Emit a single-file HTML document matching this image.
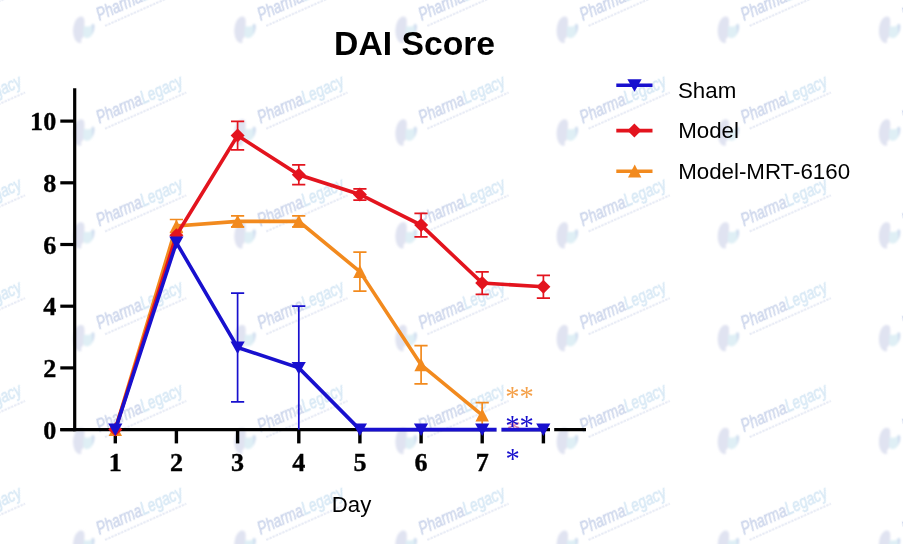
<!DOCTYPE html>
<html><head><meta charset="utf-8"><title>DAI Score</title>
<style>
html,body{margin:0;padding:0;background:#fff}
body{width:903px;height:544px;overflow:hidden}
svg{display:block}
.t{font-family:"Liberation Sans",Arial,sans-serif}
.s{font-family:"Liberation Serif","Times New Roman",serif;font-weight:bold;font-size:26.1px}
.a{font-family:"Liberation Serif","Times New Roman",serif;font-size:28.6px}
</style></head><body>
<svg width="903" height="544" viewBox="0 0 903 544">
<defs>
<filter id="b" x="-20%" y="-20%" width="140%" height="140%"><feGaussianBlur stdDeviation="0.5"/></filter>
<filter id="b2" x="-30%" y="-30%" width="160%" height="160%"><feGaussianBlur stdDeviation="0.9"/></filter>
</defs>
<rect width="903" height="544" fill="#fff"/>
<g><g transform="translate(-64.0 19.4)"><g filter="url(#b2)">
<path d="M-18 -2.500c3.500-1.200 5.500 1 5.300 4.500l-0.300 12c0 3-2 5-3.500 6.500c1.500 1.500 1 3.500-1.500 3c-3.500-1-5.500-5-6-10c-0.500-6 1.500-14 6-16z" fill="#e0e3f1"/>
<path d="M-13.500 6.500c3 1 7 1 10-2.500c1.500 8-1.500 13.500-6 14.500c-3 0.500-4.500-1-4.500-4z" fill="#dfeff5"/>
<path d="M-5.500 5c1.800-1 2.800 0 2.800 2c0 3-1 6-2.800 8c1-3 1-7 0-10z" fill="#ccd9ee"/>
</g>
<g transform="translate(2.300 1.500) rotate(-24)" filter="url(#b)">
<text class="t" x="0" y="0" font-size="18" font-style="italic" stroke-width="0.500" transform="scale(0.765 1)"><tspan fill="#ced7ec" stroke="#ced7ec">Pharma</tspan><tspan fill="#d7e8f5" stroke="#d7e8f5">Legacy</tspan></text>
<path d="M3 6.800H92" stroke="#e6eaf5" stroke-width="2" stroke-dasharray="2.500 1"/>
</g></g>
<g transform="translate(97.2 19.4)"><g filter="url(#b2)">
<path d="M-18 -2.500c3.500-1.200 5.500 1 5.300 4.500l-0.300 12c0 3-2 5-3.500 6.500c1.500 1.500 1 3.500-1.500 3c-3.500-1-5.500-5-6-10c-0.500-6 1.500-14 6-16z" fill="#e0e3f1"/>
<path d="M-13.500 6.500c3 1 7 1 10-2.500c1.500 8-1.500 13.500-6 14.500c-3 0.500-4.500-1-4.500-4z" fill="#dfeff5"/>
<path d="M-5.500 5c1.800-1 2.800 0 2.800 2c0 3-1 6-2.800 8c1-3 1-7 0-10z" fill="#ccd9ee"/>
</g>
<g transform="translate(2.300 1.500) rotate(-24)" filter="url(#b)">
<text class="t" x="0" y="0" font-size="18" font-style="italic" stroke-width="0.500" transform="scale(0.765 1)"><tspan fill="#ced7ec" stroke="#ced7ec">Pharma</tspan><tspan fill="#d7e8f5" stroke="#d7e8f5">Legacy</tspan></text>
<path d="M3 6.800H92" stroke="#e6eaf5" stroke-width="2" stroke-dasharray="2.500 1"/>
</g></g>
<g transform="translate(258.4 19.4)"><g filter="url(#b2)">
<path d="M-18 -2.500c3.500-1.200 5.500 1 5.300 4.500l-0.300 12c0 3-2 5-3.500 6.500c1.500 1.500 1 3.500-1.500 3c-3.500-1-5.500-5-6-10c-0.500-6 1.500-14 6-16z" fill="#e0e3f1"/>
<path d="M-13.500 6.500c3 1 7 1 10-2.500c1.500 8-1.500 13.500-6 14.500c-3 0.500-4.500-1-4.500-4z" fill="#dfeff5"/>
<path d="M-5.500 5c1.800-1 2.800 0 2.800 2c0 3-1 6-2.800 8c1-3 1-7 0-10z" fill="#ccd9ee"/>
</g>
<g transform="translate(2.300 1.500) rotate(-24)" filter="url(#b)">
<text class="t" x="0" y="0" font-size="18" font-style="italic" stroke-width="0.500" transform="scale(0.765 1)"><tspan fill="#ced7ec" stroke="#ced7ec">Pharma</tspan><tspan fill="#d7e8f5" stroke="#d7e8f5">Legacy</tspan></text>
<path d="M3 6.800H92" stroke="#e6eaf5" stroke-width="2" stroke-dasharray="2.500 1"/>
</g></g>
<g transform="translate(419.5 19.4)"><g filter="url(#b2)">
<path d="M-18 -2.500c3.500-1.200 5.500 1 5.300 4.500l-0.300 12c0 3-2 5-3.500 6.500c1.500 1.500 1 3.500-1.500 3c-3.500-1-5.500-5-6-10c-0.500-6 1.500-14 6-16z" fill="#e0e3f1"/>
<path d="M-13.500 6.500c3 1 7 1 10-2.500c1.500 8-1.500 13.500-6 14.500c-3 0.500-4.500-1-4.500-4z" fill="#dfeff5"/>
<path d="M-5.500 5c1.800-1 2.800 0 2.800 2c0 3-1 6-2.800 8c1-3 1-7 0-10z" fill="#ccd9ee"/>
</g>
<g transform="translate(2.300 1.500) rotate(-24)" filter="url(#b)">
<text class="t" x="0" y="0" font-size="18" font-style="italic" stroke-width="0.500" transform="scale(0.765 1)"><tspan fill="#ced7ec" stroke="#ced7ec">Pharma</tspan><tspan fill="#d7e8f5" stroke="#d7e8f5">Legacy</tspan></text>
<path d="M3 6.800H92" stroke="#e6eaf5" stroke-width="2" stroke-dasharray="2.500 1"/>
</g></g>
<g transform="translate(580.7 19.4)"><g filter="url(#b2)">
<path d="M-18 -2.500c3.500-1.200 5.500 1 5.300 4.500l-0.300 12c0 3-2 5-3.500 6.500c1.500 1.500 1 3.500-1.500 3c-3.500-1-5.500-5-6-10c-0.500-6 1.500-14 6-16z" fill="#e0e3f1"/>
<path d="M-13.500 6.500c3 1 7 1 10-2.500c1.500 8-1.500 13.500-6 14.500c-3 0.500-4.500-1-4.500-4z" fill="#dfeff5"/>
<path d="M-5.500 5c1.800-1 2.800 0 2.800 2c0 3-1 6-2.800 8c1-3 1-7 0-10z" fill="#ccd9ee"/>
</g>
<g transform="translate(2.300 1.500) rotate(-24)" filter="url(#b)">
<text class="t" x="0" y="0" font-size="18" font-style="italic" stroke-width="0.500" transform="scale(0.765 1)"><tspan fill="#ced7ec" stroke="#ced7ec">Pharma</tspan><tspan fill="#d7e8f5" stroke="#d7e8f5">Legacy</tspan></text>
<path d="M3 6.800H92" stroke="#e6eaf5" stroke-width="2" stroke-dasharray="2.500 1"/>
</g></g>
<g transform="translate(741.8 19.4)"><g filter="url(#b2)">
<path d="M-18 -2.500c3.500-1.200 5.500 1 5.300 4.500l-0.300 12c0 3-2 5-3.500 6.500c1.500 1.500 1 3.500-1.500 3c-3.500-1-5.500-5-6-10c-0.500-6 1.500-14 6-16z" fill="#e0e3f1"/>
<path d="M-13.500 6.500c3 1 7 1 10-2.500c1.500 8-1.500 13.500-6 14.500c-3 0.500-4.500-1-4.500-4z" fill="#dfeff5"/>
<path d="M-5.500 5c1.800-1 2.800 0 2.800 2c0 3-1 6-2.800 8c1-3 1-7 0-10z" fill="#ccd9ee"/>
</g>
<g transform="translate(2.300 1.500) rotate(-24)" filter="url(#b)">
<text class="t" x="0" y="0" font-size="18" font-style="italic" stroke-width="0.500" transform="scale(0.765 1)"><tspan fill="#ced7ec" stroke="#ced7ec">Pharma</tspan><tspan fill="#d7e8f5" stroke="#d7e8f5">Legacy</tspan></text>
<path d="M3 6.800H92" stroke="#e6eaf5" stroke-width="2" stroke-dasharray="2.500 1"/>
</g></g>
<g transform="translate(903.0 19.4)"><g filter="url(#b2)">
<path d="M-18 -2.500c3.500-1.200 5.500 1 5.300 4.500l-0.300 12c0 3-2 5-3.500 6.500c1.500 1.500 1 3.500-1.500 3c-3.500-1-5.500-5-6-10c-0.500-6 1.500-14 6-16z" fill="#e0e3f1"/>
<path d="M-13.500 6.500c3 1 7 1 10-2.500c1.500 8-1.500 13.500-6 14.500c-3 0.500-4.500-1-4.500-4z" fill="#dfeff5"/>
<path d="M-5.500 5c1.800-1 2.800 0 2.800 2c0 3-1 6-2.800 8c1-3 1-7 0-10z" fill="#ccd9ee"/>
</g>
<g transform="translate(2.300 1.500) rotate(-24)" filter="url(#b)">
<text class="t" x="0" y="0" font-size="18" font-style="italic" stroke-width="0.500" transform="scale(0.765 1)"><tspan fill="#ced7ec" stroke="#ced7ec">Pharma</tspan><tspan fill="#d7e8f5" stroke="#d7e8f5">Legacy</tspan></text>
<path d="M3 6.800H92" stroke="#e6eaf5" stroke-width="2" stroke-dasharray="2.500 1"/>
</g></g>
<g transform="translate(-64.0 122.2)"><g filter="url(#b2)">
<path d="M-18 -2.500c3.500-1.200 5.500 1 5.300 4.500l-0.300 12c0 3-2 5-3.500 6.500c1.500 1.500 1 3.500-1.500 3c-3.500-1-5.500-5-6-10c-0.500-6 1.500-14 6-16z" fill="#e0e3f1"/>
<path d="M-13.500 6.500c3 1 7 1 10-2.500c1.500 8-1.500 13.500-6 14.500c-3 0.500-4.500-1-4.500-4z" fill="#dfeff5"/>
<path d="M-5.500 5c1.800-1 2.800 0 2.800 2c0 3-1 6-2.800 8c1-3 1-7 0-10z" fill="#ccd9ee"/>
</g>
<g transform="translate(2.300 1.500) rotate(-24)" filter="url(#b)">
<text class="t" x="0" y="0" font-size="18" font-style="italic" stroke-width="0.500" transform="scale(0.765 1)"><tspan fill="#ced7ec" stroke="#ced7ec">Pharma</tspan><tspan fill="#d7e8f5" stroke="#d7e8f5">Legacy</tspan></text>
<path d="M3 6.800H92" stroke="#e6eaf5" stroke-width="2" stroke-dasharray="2.500 1"/>
</g></g>
<g transform="translate(97.2 122.2)"><g filter="url(#b2)">
<path d="M-18 -2.500c3.500-1.200 5.500 1 5.300 4.500l-0.300 12c0 3-2 5-3.500 6.500c1.500 1.500 1 3.500-1.500 3c-3.500-1-5.500-5-6-10c-0.500-6 1.500-14 6-16z" fill="#e0e3f1"/>
<path d="M-13.500 6.500c3 1 7 1 10-2.500c1.500 8-1.500 13.500-6 14.500c-3 0.500-4.500-1-4.500-4z" fill="#dfeff5"/>
<path d="M-5.500 5c1.800-1 2.800 0 2.800 2c0 3-1 6-2.800 8c1-3 1-7 0-10z" fill="#ccd9ee"/>
</g>
<g transform="translate(2.300 1.500) rotate(-24)" filter="url(#b)">
<text class="t" x="0" y="0" font-size="18" font-style="italic" stroke-width="0.500" transform="scale(0.765 1)"><tspan fill="#ced7ec" stroke="#ced7ec">Pharma</tspan><tspan fill="#d7e8f5" stroke="#d7e8f5">Legacy</tspan></text>
<path d="M3 6.800H92" stroke="#e6eaf5" stroke-width="2" stroke-dasharray="2.500 1"/>
</g></g>
<g transform="translate(258.4 122.2)"><g filter="url(#b2)">
<path d="M-18 -2.500c3.500-1.200 5.500 1 5.300 4.500l-0.300 12c0 3-2 5-3.500 6.500c1.500 1.500 1 3.500-1.500 3c-3.500-1-5.500-5-6-10c-0.500-6 1.500-14 6-16z" fill="#e0e3f1"/>
<path d="M-13.500 6.500c3 1 7 1 10-2.500c1.500 8-1.500 13.500-6 14.500c-3 0.500-4.500-1-4.500-4z" fill="#dfeff5"/>
<path d="M-5.500 5c1.800-1 2.800 0 2.800 2c0 3-1 6-2.800 8c1-3 1-7 0-10z" fill="#ccd9ee"/>
</g>
<g transform="translate(2.300 1.500) rotate(-24)" filter="url(#b)">
<text class="t" x="0" y="0" font-size="18" font-style="italic" stroke-width="0.500" transform="scale(0.765 1)"><tspan fill="#ced7ec" stroke="#ced7ec">Pharma</tspan><tspan fill="#d7e8f5" stroke="#d7e8f5">Legacy</tspan></text>
<path d="M3 6.800H92" stroke="#e6eaf5" stroke-width="2" stroke-dasharray="2.500 1"/>
</g></g>
<g transform="translate(419.5 122.2)"><g filter="url(#b2)">
<path d="M-18 -2.500c3.500-1.200 5.500 1 5.300 4.500l-0.300 12c0 3-2 5-3.500 6.500c1.500 1.500 1 3.500-1.500 3c-3.500-1-5.500-5-6-10c-0.500-6 1.500-14 6-16z" fill="#e0e3f1"/>
<path d="M-13.500 6.500c3 1 7 1 10-2.500c1.500 8-1.500 13.500-6 14.500c-3 0.500-4.500-1-4.500-4z" fill="#dfeff5"/>
<path d="M-5.500 5c1.800-1 2.800 0 2.800 2c0 3-1 6-2.800 8c1-3 1-7 0-10z" fill="#ccd9ee"/>
</g>
<g transform="translate(2.300 1.500) rotate(-24)" filter="url(#b)">
<text class="t" x="0" y="0" font-size="18" font-style="italic" stroke-width="0.500" transform="scale(0.765 1)"><tspan fill="#ced7ec" stroke="#ced7ec">Pharma</tspan><tspan fill="#d7e8f5" stroke="#d7e8f5">Legacy</tspan></text>
<path d="M3 6.800H92" stroke="#e6eaf5" stroke-width="2" stroke-dasharray="2.500 1"/>
</g></g>
<g transform="translate(580.7 122.2)"><g filter="url(#b2)">
<path d="M-18 -2.500c3.500-1.200 5.500 1 5.300 4.500l-0.300 12c0 3-2 5-3.500 6.500c1.500 1.500 1 3.500-1.500 3c-3.500-1-5.500-5-6-10c-0.500-6 1.500-14 6-16z" fill="#e0e3f1"/>
<path d="M-13.500 6.500c3 1 7 1 10-2.500c1.500 8-1.500 13.500-6 14.500c-3 0.500-4.500-1-4.500-4z" fill="#dfeff5"/>
<path d="M-5.500 5c1.800-1 2.800 0 2.800 2c0 3-1 6-2.800 8c1-3 1-7 0-10z" fill="#ccd9ee"/>
</g>
<g transform="translate(2.300 1.500) rotate(-24)" filter="url(#b)">
<text class="t" x="0" y="0" font-size="18" font-style="italic" stroke-width="0.500" transform="scale(0.765 1)"><tspan fill="#ced7ec" stroke="#ced7ec">Pharma</tspan><tspan fill="#d7e8f5" stroke="#d7e8f5">Legacy</tspan></text>
<path d="M3 6.800H92" stroke="#e6eaf5" stroke-width="2" stroke-dasharray="2.500 1"/>
</g></g>
<g transform="translate(741.8 122.2)"><g filter="url(#b2)">
<path d="M-18 -2.500c3.500-1.200 5.500 1 5.300 4.500l-0.300 12c0 3-2 5-3.500 6.500c1.500 1.500 1 3.500-1.500 3c-3.500-1-5.500-5-6-10c-0.500-6 1.500-14 6-16z" fill="#e0e3f1"/>
<path d="M-13.500 6.500c3 1 7 1 10-2.500c1.500 8-1.500 13.500-6 14.500c-3 0.500-4.500-1-4.500-4z" fill="#dfeff5"/>
<path d="M-5.500 5c1.800-1 2.800 0 2.800 2c0 3-1 6-2.800 8c1-3 1-7 0-10z" fill="#ccd9ee"/>
</g>
<g transform="translate(2.300 1.500) rotate(-24)" filter="url(#b)">
<text class="t" x="0" y="0" font-size="18" font-style="italic" stroke-width="0.500" transform="scale(0.765 1)"><tspan fill="#ced7ec" stroke="#ced7ec">Pharma</tspan><tspan fill="#d7e8f5" stroke="#d7e8f5">Legacy</tspan></text>
<path d="M3 6.800H92" stroke="#e6eaf5" stroke-width="2" stroke-dasharray="2.500 1"/>
</g></g>
<g transform="translate(903.0 122.2)"><g filter="url(#b2)">
<path d="M-18 -2.500c3.500-1.200 5.500 1 5.300 4.500l-0.300 12c0 3-2 5-3.500 6.500c1.500 1.500 1 3.500-1.500 3c-3.500-1-5.500-5-6-10c-0.500-6 1.500-14 6-16z" fill="#e0e3f1"/>
<path d="M-13.500 6.500c3 1 7 1 10-2.500c1.500 8-1.500 13.500-6 14.500c-3 0.500-4.500-1-4.500-4z" fill="#dfeff5"/>
<path d="M-5.500 5c1.800-1 2.800 0 2.800 2c0 3-1 6-2.800 8c1-3 1-7 0-10z" fill="#ccd9ee"/>
</g>
<g transform="translate(2.300 1.500) rotate(-24)" filter="url(#b)">
<text class="t" x="0" y="0" font-size="18" font-style="italic" stroke-width="0.500" transform="scale(0.765 1)"><tspan fill="#ced7ec" stroke="#ced7ec">Pharma</tspan><tspan fill="#d7e8f5" stroke="#d7e8f5">Legacy</tspan></text>
<path d="M3 6.800H92" stroke="#e6eaf5" stroke-width="2" stroke-dasharray="2.500 1"/>
</g></g>
<g transform="translate(-64.0 225.0)"><g filter="url(#b2)">
<path d="M-18 -2.500c3.500-1.200 5.500 1 5.300 4.500l-0.300 12c0 3-2 5-3.500 6.500c1.500 1.500 1 3.500-1.500 3c-3.500-1-5.500-5-6-10c-0.500-6 1.500-14 6-16z" fill="#e0e3f1"/>
<path d="M-13.500 6.500c3 1 7 1 10-2.500c1.500 8-1.500 13.500-6 14.500c-3 0.500-4.500-1-4.500-4z" fill="#dfeff5"/>
<path d="M-5.500 5c1.800-1 2.800 0 2.800 2c0 3-1 6-2.800 8c1-3 1-7 0-10z" fill="#ccd9ee"/>
</g>
<g transform="translate(2.300 1.500) rotate(-24)" filter="url(#b)">
<text class="t" x="0" y="0" font-size="18" font-style="italic" stroke-width="0.500" transform="scale(0.765 1)"><tspan fill="#ced7ec" stroke="#ced7ec">Pharma</tspan><tspan fill="#d7e8f5" stroke="#d7e8f5">Legacy</tspan></text>
<path d="M3 6.800H92" stroke="#e6eaf5" stroke-width="2" stroke-dasharray="2.500 1"/>
</g></g>
<g transform="translate(97.2 225.0)"><g filter="url(#b2)">
<path d="M-18 -2.500c3.500-1.200 5.500 1 5.300 4.500l-0.300 12c0 3-2 5-3.500 6.500c1.500 1.500 1 3.500-1.500 3c-3.500-1-5.500-5-6-10c-0.500-6 1.500-14 6-16z" fill="#e0e3f1"/>
<path d="M-13.500 6.500c3 1 7 1 10-2.500c1.500 8-1.500 13.500-6 14.500c-3 0.500-4.500-1-4.500-4z" fill="#dfeff5"/>
<path d="M-5.500 5c1.800-1 2.800 0 2.800 2c0 3-1 6-2.800 8c1-3 1-7 0-10z" fill="#ccd9ee"/>
</g>
<g transform="translate(2.300 1.500) rotate(-24)" filter="url(#b)">
<text class="t" x="0" y="0" font-size="18" font-style="italic" stroke-width="0.500" transform="scale(0.765 1)"><tspan fill="#ced7ec" stroke="#ced7ec">Pharma</tspan><tspan fill="#d7e8f5" stroke="#d7e8f5">Legacy</tspan></text>
<path d="M3 6.800H92" stroke="#e6eaf5" stroke-width="2" stroke-dasharray="2.500 1"/>
</g></g>
<g transform="translate(258.4 225.0)"><g filter="url(#b2)">
<path d="M-18 -2.500c3.500-1.200 5.500 1 5.300 4.500l-0.300 12c0 3-2 5-3.500 6.500c1.500 1.500 1 3.500-1.500 3c-3.500-1-5.500-5-6-10c-0.500-6 1.500-14 6-16z" fill="#e0e3f1"/>
<path d="M-13.500 6.500c3 1 7 1 10-2.500c1.500 8-1.500 13.500-6 14.500c-3 0.500-4.500-1-4.500-4z" fill="#dfeff5"/>
<path d="M-5.500 5c1.800-1 2.800 0 2.800 2c0 3-1 6-2.800 8c1-3 1-7 0-10z" fill="#ccd9ee"/>
</g>
<g transform="translate(2.300 1.500) rotate(-24)" filter="url(#b)">
<text class="t" x="0" y="0" font-size="18" font-style="italic" stroke-width="0.500" transform="scale(0.765 1)"><tspan fill="#ced7ec" stroke="#ced7ec">Pharma</tspan><tspan fill="#d7e8f5" stroke="#d7e8f5">Legacy</tspan></text>
<path d="M3 6.800H92" stroke="#e6eaf5" stroke-width="2" stroke-dasharray="2.500 1"/>
</g></g>
<g transform="translate(419.5 225.0)"><g filter="url(#b2)">
<path d="M-18 -2.500c3.500-1.200 5.500 1 5.300 4.500l-0.300 12c0 3-2 5-3.500 6.500c1.500 1.500 1 3.500-1.500 3c-3.500-1-5.500-5-6-10c-0.500-6 1.500-14 6-16z" fill="#e0e3f1"/>
<path d="M-13.500 6.500c3 1 7 1 10-2.500c1.500 8-1.500 13.500-6 14.500c-3 0.500-4.500-1-4.500-4z" fill="#dfeff5"/>
<path d="M-5.500 5c1.800-1 2.800 0 2.800 2c0 3-1 6-2.800 8c1-3 1-7 0-10z" fill="#ccd9ee"/>
</g>
<g transform="translate(2.300 1.500) rotate(-24)" filter="url(#b)">
<text class="t" x="0" y="0" font-size="18" font-style="italic" stroke-width="0.500" transform="scale(0.765 1)"><tspan fill="#ced7ec" stroke="#ced7ec">Pharma</tspan><tspan fill="#d7e8f5" stroke="#d7e8f5">Legacy</tspan></text>
<path d="M3 6.800H92" stroke="#e6eaf5" stroke-width="2" stroke-dasharray="2.500 1"/>
</g></g>
<g transform="translate(580.7 225.0)"><g filter="url(#b2)">
<path d="M-18 -2.500c3.500-1.200 5.500 1 5.300 4.500l-0.300 12c0 3-2 5-3.500 6.500c1.500 1.500 1 3.500-1.500 3c-3.500-1-5.500-5-6-10c-0.500-6 1.500-14 6-16z" fill="#e0e3f1"/>
<path d="M-13.500 6.500c3 1 7 1 10-2.500c1.500 8-1.500 13.500-6 14.500c-3 0.500-4.500-1-4.500-4z" fill="#dfeff5"/>
<path d="M-5.500 5c1.800-1 2.800 0 2.800 2c0 3-1 6-2.800 8c1-3 1-7 0-10z" fill="#ccd9ee"/>
</g>
<g transform="translate(2.300 1.500) rotate(-24)" filter="url(#b)">
<text class="t" x="0" y="0" font-size="18" font-style="italic" stroke-width="0.500" transform="scale(0.765 1)"><tspan fill="#ced7ec" stroke="#ced7ec">Pharma</tspan><tspan fill="#d7e8f5" stroke="#d7e8f5">Legacy</tspan></text>
<path d="M3 6.800H92" stroke="#e6eaf5" stroke-width="2" stroke-dasharray="2.500 1"/>
</g></g>
<g transform="translate(741.8 225.0)"><g filter="url(#b2)">
<path d="M-18 -2.500c3.500-1.200 5.500 1 5.300 4.500l-0.300 12c0 3-2 5-3.500 6.500c1.500 1.500 1 3.500-1.500 3c-3.500-1-5.500-5-6-10c-0.500-6 1.500-14 6-16z" fill="#e0e3f1"/>
<path d="M-13.500 6.500c3 1 7 1 10-2.500c1.500 8-1.500 13.500-6 14.500c-3 0.500-4.500-1-4.500-4z" fill="#dfeff5"/>
<path d="M-5.500 5c1.800-1 2.800 0 2.800 2c0 3-1 6-2.800 8c1-3 1-7 0-10z" fill="#ccd9ee"/>
</g>
<g transform="translate(2.300 1.500) rotate(-24)" filter="url(#b)">
<text class="t" x="0" y="0" font-size="18" font-style="italic" stroke-width="0.500" transform="scale(0.765 1)"><tspan fill="#ced7ec" stroke="#ced7ec">Pharma</tspan><tspan fill="#d7e8f5" stroke="#d7e8f5">Legacy</tspan></text>
<path d="M3 6.800H92" stroke="#e6eaf5" stroke-width="2" stroke-dasharray="2.500 1"/>
</g></g>
<g transform="translate(903.0 225.0)"><g filter="url(#b2)">
<path d="M-18 -2.500c3.500-1.200 5.500 1 5.300 4.500l-0.300 12c0 3-2 5-3.500 6.500c1.500 1.500 1 3.500-1.500 3c-3.500-1-5.500-5-6-10c-0.500-6 1.500-14 6-16z" fill="#e0e3f1"/>
<path d="M-13.500 6.500c3 1 7 1 10-2.500c1.500 8-1.500 13.500-6 14.500c-3 0.500-4.500-1-4.500-4z" fill="#dfeff5"/>
<path d="M-5.500 5c1.800-1 2.800 0 2.800 2c0 3-1 6-2.800 8c1-3 1-7 0-10z" fill="#ccd9ee"/>
</g>
<g transform="translate(2.300 1.500) rotate(-24)" filter="url(#b)">
<text class="t" x="0" y="0" font-size="18" font-style="italic" stroke-width="0.500" transform="scale(0.765 1)"><tspan fill="#ced7ec" stroke="#ced7ec">Pharma</tspan><tspan fill="#d7e8f5" stroke="#d7e8f5">Legacy</tspan></text>
<path d="M3 6.800H92" stroke="#e6eaf5" stroke-width="2" stroke-dasharray="2.500 1"/>
</g></g>
<g transform="translate(-64.0 327.8)"><g filter="url(#b2)">
<path d="M-18 -2.500c3.500-1.200 5.500 1 5.300 4.500l-0.300 12c0 3-2 5-3.500 6.500c1.500 1.500 1 3.500-1.500 3c-3.500-1-5.500-5-6-10c-0.500-6 1.500-14 6-16z" fill="#e0e3f1"/>
<path d="M-13.500 6.500c3 1 7 1 10-2.500c1.500 8-1.500 13.500-6 14.500c-3 0.500-4.500-1-4.500-4z" fill="#dfeff5"/>
<path d="M-5.500 5c1.800-1 2.800 0 2.800 2c0 3-1 6-2.800 8c1-3 1-7 0-10z" fill="#ccd9ee"/>
</g>
<g transform="translate(2.300 1.500) rotate(-24)" filter="url(#b)">
<text class="t" x="0" y="0" font-size="18" font-style="italic" stroke-width="0.500" transform="scale(0.765 1)"><tspan fill="#ced7ec" stroke="#ced7ec">Pharma</tspan><tspan fill="#d7e8f5" stroke="#d7e8f5">Legacy</tspan></text>
<path d="M3 6.800H92" stroke="#e6eaf5" stroke-width="2" stroke-dasharray="2.500 1"/>
</g></g>
<g transform="translate(97.2 327.8)"><g filter="url(#b2)">
<path d="M-18 -2.500c3.500-1.200 5.500 1 5.300 4.500l-0.300 12c0 3-2 5-3.500 6.500c1.500 1.500 1 3.500-1.500 3c-3.500-1-5.500-5-6-10c-0.500-6 1.500-14 6-16z" fill="#e0e3f1"/>
<path d="M-13.500 6.500c3 1 7 1 10-2.500c1.500 8-1.500 13.500-6 14.500c-3 0.500-4.500-1-4.500-4z" fill="#dfeff5"/>
<path d="M-5.500 5c1.800-1 2.800 0 2.800 2c0 3-1 6-2.800 8c1-3 1-7 0-10z" fill="#ccd9ee"/>
</g>
<g transform="translate(2.300 1.500) rotate(-24)" filter="url(#b)">
<text class="t" x="0" y="0" font-size="18" font-style="italic" stroke-width="0.500" transform="scale(0.765 1)"><tspan fill="#ced7ec" stroke="#ced7ec">Pharma</tspan><tspan fill="#d7e8f5" stroke="#d7e8f5">Legacy</tspan></text>
<path d="M3 6.800H92" stroke="#e6eaf5" stroke-width="2" stroke-dasharray="2.500 1"/>
</g></g>
<g transform="translate(258.4 327.8)"><g filter="url(#b2)">
<path d="M-18 -2.500c3.500-1.200 5.500 1 5.300 4.500l-0.300 12c0 3-2 5-3.500 6.500c1.500 1.500 1 3.500-1.500 3c-3.500-1-5.500-5-6-10c-0.500-6 1.500-14 6-16z" fill="#e0e3f1"/>
<path d="M-13.500 6.500c3 1 7 1 10-2.500c1.500 8-1.500 13.500-6 14.500c-3 0.500-4.500-1-4.500-4z" fill="#dfeff5"/>
<path d="M-5.500 5c1.800-1 2.800 0 2.800 2c0 3-1 6-2.800 8c1-3 1-7 0-10z" fill="#ccd9ee"/>
</g>
<g transform="translate(2.300 1.500) rotate(-24)" filter="url(#b)">
<text class="t" x="0" y="0" font-size="18" font-style="italic" stroke-width="0.500" transform="scale(0.765 1)"><tspan fill="#ced7ec" stroke="#ced7ec">Pharma</tspan><tspan fill="#d7e8f5" stroke="#d7e8f5">Legacy</tspan></text>
<path d="M3 6.800H92" stroke="#e6eaf5" stroke-width="2" stroke-dasharray="2.500 1"/>
</g></g>
<g transform="translate(419.5 327.8)"><g filter="url(#b2)">
<path d="M-18 -2.500c3.500-1.200 5.500 1 5.300 4.500l-0.300 12c0 3-2 5-3.500 6.500c1.500 1.500 1 3.500-1.500 3c-3.500-1-5.500-5-6-10c-0.500-6 1.500-14 6-16z" fill="#e0e3f1"/>
<path d="M-13.500 6.500c3 1 7 1 10-2.500c1.500 8-1.500 13.500-6 14.500c-3 0.500-4.500-1-4.500-4z" fill="#dfeff5"/>
<path d="M-5.500 5c1.800-1 2.800 0 2.800 2c0 3-1 6-2.800 8c1-3 1-7 0-10z" fill="#ccd9ee"/>
</g>
<g transform="translate(2.300 1.500) rotate(-24)" filter="url(#b)">
<text class="t" x="0" y="0" font-size="18" font-style="italic" stroke-width="0.500" transform="scale(0.765 1)"><tspan fill="#ced7ec" stroke="#ced7ec">Pharma</tspan><tspan fill="#d7e8f5" stroke="#d7e8f5">Legacy</tspan></text>
<path d="M3 6.800H92" stroke="#e6eaf5" stroke-width="2" stroke-dasharray="2.500 1"/>
</g></g>
<g transform="translate(580.7 327.8)"><g filter="url(#b2)">
<path d="M-18 -2.500c3.500-1.200 5.500 1 5.300 4.500l-0.300 12c0 3-2 5-3.500 6.500c1.500 1.500 1 3.500-1.500 3c-3.500-1-5.500-5-6-10c-0.500-6 1.500-14 6-16z" fill="#e0e3f1"/>
<path d="M-13.500 6.500c3 1 7 1 10-2.500c1.500 8-1.500 13.500-6 14.500c-3 0.500-4.500-1-4.500-4z" fill="#dfeff5"/>
<path d="M-5.500 5c1.800-1 2.800 0 2.800 2c0 3-1 6-2.800 8c1-3 1-7 0-10z" fill="#ccd9ee"/>
</g>
<g transform="translate(2.300 1.500) rotate(-24)" filter="url(#b)">
<text class="t" x="0" y="0" font-size="18" font-style="italic" stroke-width="0.500" transform="scale(0.765 1)"><tspan fill="#ced7ec" stroke="#ced7ec">Pharma</tspan><tspan fill="#d7e8f5" stroke="#d7e8f5">Legacy</tspan></text>
<path d="M3 6.800H92" stroke="#e6eaf5" stroke-width="2" stroke-dasharray="2.500 1"/>
</g></g>
<g transform="translate(741.8 327.8)"><g filter="url(#b2)">
<path d="M-18 -2.500c3.500-1.200 5.500 1 5.300 4.500l-0.300 12c0 3-2 5-3.500 6.500c1.500 1.500 1 3.500-1.500 3c-3.500-1-5.500-5-6-10c-0.500-6 1.500-14 6-16z" fill="#e0e3f1"/>
<path d="M-13.500 6.500c3 1 7 1 10-2.500c1.500 8-1.500 13.500-6 14.500c-3 0.500-4.500-1-4.500-4z" fill="#dfeff5"/>
<path d="M-5.500 5c1.800-1 2.800 0 2.800 2c0 3-1 6-2.800 8c1-3 1-7 0-10z" fill="#ccd9ee"/>
</g>
<g transform="translate(2.300 1.500) rotate(-24)" filter="url(#b)">
<text class="t" x="0" y="0" font-size="18" font-style="italic" stroke-width="0.500" transform="scale(0.765 1)"><tspan fill="#ced7ec" stroke="#ced7ec">Pharma</tspan><tspan fill="#d7e8f5" stroke="#d7e8f5">Legacy</tspan></text>
<path d="M3 6.800H92" stroke="#e6eaf5" stroke-width="2" stroke-dasharray="2.500 1"/>
</g></g>
<g transform="translate(903.0 327.8)"><g filter="url(#b2)">
<path d="M-18 -2.500c3.500-1.200 5.500 1 5.300 4.500l-0.300 12c0 3-2 5-3.500 6.500c1.500 1.500 1 3.500-1.500 3c-3.500-1-5.500-5-6-10c-0.500-6 1.500-14 6-16z" fill="#e0e3f1"/>
<path d="M-13.500 6.500c3 1 7 1 10-2.500c1.500 8-1.500 13.500-6 14.500c-3 0.500-4.500-1-4.500-4z" fill="#dfeff5"/>
<path d="M-5.500 5c1.800-1 2.800 0 2.800 2c0 3-1 6-2.800 8c1-3 1-7 0-10z" fill="#ccd9ee"/>
</g>
<g transform="translate(2.300 1.500) rotate(-24)" filter="url(#b)">
<text class="t" x="0" y="0" font-size="18" font-style="italic" stroke-width="0.500" transform="scale(0.765 1)"><tspan fill="#ced7ec" stroke="#ced7ec">Pharma</tspan><tspan fill="#d7e8f5" stroke="#d7e8f5">Legacy</tspan></text>
<path d="M3 6.800H92" stroke="#e6eaf5" stroke-width="2" stroke-dasharray="2.500 1"/>
</g></g>
<g transform="translate(-64.0 430.6)"><g filter="url(#b2)">
<path d="M-18 -2.500c3.500-1.200 5.500 1 5.300 4.500l-0.300 12c0 3-2 5-3.500 6.500c1.500 1.500 1 3.500-1.500 3c-3.500-1-5.500-5-6-10c-0.500-6 1.500-14 6-16z" fill="#e0e3f1"/>
<path d="M-13.500 6.500c3 1 7 1 10-2.500c1.500 8-1.500 13.500-6 14.500c-3 0.500-4.500-1-4.500-4z" fill="#dfeff5"/>
<path d="M-5.500 5c1.800-1 2.800 0 2.800 2c0 3-1 6-2.800 8c1-3 1-7 0-10z" fill="#ccd9ee"/>
</g>
<g transform="translate(2.300 1.500) rotate(-24)" filter="url(#b)">
<text class="t" x="0" y="0" font-size="18" font-style="italic" stroke-width="0.500" transform="scale(0.765 1)"><tspan fill="#ced7ec" stroke="#ced7ec">Pharma</tspan><tspan fill="#d7e8f5" stroke="#d7e8f5">Legacy</tspan></text>
<path d="M3 6.800H92" stroke="#e6eaf5" stroke-width="2" stroke-dasharray="2.500 1"/>
</g></g>
<g transform="translate(97.2 430.6)"><g filter="url(#b2)">
<path d="M-18 -2.500c3.500-1.200 5.500 1 5.300 4.500l-0.300 12c0 3-2 5-3.500 6.500c1.500 1.500 1 3.500-1.500 3c-3.500-1-5.500-5-6-10c-0.500-6 1.500-14 6-16z" fill="#e0e3f1"/>
<path d="M-13.500 6.500c3 1 7 1 10-2.500c1.500 8-1.500 13.500-6 14.500c-3 0.500-4.500-1-4.500-4z" fill="#dfeff5"/>
<path d="M-5.500 5c1.800-1 2.800 0 2.800 2c0 3-1 6-2.800 8c1-3 1-7 0-10z" fill="#ccd9ee"/>
</g>
<g transform="translate(2.300 1.500) rotate(-24)" filter="url(#b)">
<text class="t" x="0" y="0" font-size="18" font-style="italic" stroke-width="0.500" transform="scale(0.765 1)"><tspan fill="#ced7ec" stroke="#ced7ec">Pharma</tspan><tspan fill="#d7e8f5" stroke="#d7e8f5">Legacy</tspan></text>
<path d="M3 6.800H92" stroke="#e6eaf5" stroke-width="2" stroke-dasharray="2.500 1"/>
</g></g>
<g transform="translate(258.4 430.6)"><g filter="url(#b2)">
<path d="M-18 -2.500c3.500-1.200 5.500 1 5.300 4.500l-0.300 12c0 3-2 5-3.500 6.500c1.500 1.500 1 3.500-1.500 3c-3.500-1-5.500-5-6-10c-0.500-6 1.500-14 6-16z" fill="#e0e3f1"/>
<path d="M-13.500 6.500c3 1 7 1 10-2.500c1.500 8-1.500 13.500-6 14.500c-3 0.500-4.500-1-4.500-4z" fill="#dfeff5"/>
<path d="M-5.500 5c1.800-1 2.800 0 2.800 2c0 3-1 6-2.800 8c1-3 1-7 0-10z" fill="#ccd9ee"/>
</g>
<g transform="translate(2.300 1.500) rotate(-24)" filter="url(#b)">
<text class="t" x="0" y="0" font-size="18" font-style="italic" stroke-width="0.500" transform="scale(0.765 1)"><tspan fill="#ced7ec" stroke="#ced7ec">Pharma</tspan><tspan fill="#d7e8f5" stroke="#d7e8f5">Legacy</tspan></text>
<path d="M3 6.800H92" stroke="#e6eaf5" stroke-width="2" stroke-dasharray="2.500 1"/>
</g></g>
<g transform="translate(419.5 430.6)"><g filter="url(#b2)">
<path d="M-18 -2.500c3.500-1.200 5.500 1 5.300 4.500l-0.300 12c0 3-2 5-3.500 6.500c1.500 1.500 1 3.500-1.500 3c-3.500-1-5.500-5-6-10c-0.500-6 1.500-14 6-16z" fill="#e0e3f1"/>
<path d="M-13.500 6.500c3 1 7 1 10-2.500c1.500 8-1.500 13.500-6 14.500c-3 0.500-4.500-1-4.500-4z" fill="#dfeff5"/>
<path d="M-5.500 5c1.800-1 2.800 0 2.800 2c0 3-1 6-2.800 8c1-3 1-7 0-10z" fill="#ccd9ee"/>
</g>
<g transform="translate(2.300 1.500) rotate(-24)" filter="url(#b)">
<text class="t" x="0" y="0" font-size="18" font-style="italic" stroke-width="0.500" transform="scale(0.765 1)"><tspan fill="#ced7ec" stroke="#ced7ec">Pharma</tspan><tspan fill="#d7e8f5" stroke="#d7e8f5">Legacy</tspan></text>
<path d="M3 6.800H92" stroke="#e6eaf5" stroke-width="2" stroke-dasharray="2.500 1"/>
</g></g>
<g transform="translate(580.7 430.6)"><g filter="url(#b2)">
<path d="M-18 -2.500c3.500-1.200 5.500 1 5.300 4.500l-0.300 12c0 3-2 5-3.500 6.500c1.500 1.500 1 3.500-1.500 3c-3.500-1-5.500-5-6-10c-0.500-6 1.500-14 6-16z" fill="#e0e3f1"/>
<path d="M-13.500 6.500c3 1 7 1 10-2.500c1.500 8-1.500 13.500-6 14.500c-3 0.500-4.500-1-4.500-4z" fill="#dfeff5"/>
<path d="M-5.500 5c1.800-1 2.800 0 2.800 2c0 3-1 6-2.800 8c1-3 1-7 0-10z" fill="#ccd9ee"/>
</g>
<g transform="translate(2.300 1.500) rotate(-24)" filter="url(#b)">
<text class="t" x="0" y="0" font-size="18" font-style="italic" stroke-width="0.500" transform="scale(0.765 1)"><tspan fill="#ced7ec" stroke="#ced7ec">Pharma</tspan><tspan fill="#d7e8f5" stroke="#d7e8f5">Legacy</tspan></text>
<path d="M3 6.800H92" stroke="#e6eaf5" stroke-width="2" stroke-dasharray="2.500 1"/>
</g></g>
<g transform="translate(741.8 430.6)"><g filter="url(#b2)">
<path d="M-18 -2.500c3.500-1.200 5.500 1 5.300 4.500l-0.300 12c0 3-2 5-3.500 6.500c1.500 1.500 1 3.500-1.500 3c-3.500-1-5.500-5-6-10c-0.500-6 1.500-14 6-16z" fill="#e0e3f1"/>
<path d="M-13.500 6.500c3 1 7 1 10-2.500c1.500 8-1.500 13.500-6 14.500c-3 0.500-4.500-1-4.500-4z" fill="#dfeff5"/>
<path d="M-5.500 5c1.800-1 2.800 0 2.800 2c0 3-1 6-2.800 8c1-3 1-7 0-10z" fill="#ccd9ee"/>
</g>
<g transform="translate(2.300 1.500) rotate(-24)" filter="url(#b)">
<text class="t" x="0" y="0" font-size="18" font-style="italic" stroke-width="0.500" transform="scale(0.765 1)"><tspan fill="#ced7ec" stroke="#ced7ec">Pharma</tspan><tspan fill="#d7e8f5" stroke="#d7e8f5">Legacy</tspan></text>
<path d="M3 6.800H92" stroke="#e6eaf5" stroke-width="2" stroke-dasharray="2.500 1"/>
</g></g>
<g transform="translate(903.0 430.6)"><g filter="url(#b2)">
<path d="M-18 -2.500c3.500-1.200 5.500 1 5.300 4.500l-0.300 12c0 3-2 5-3.500 6.500c1.500 1.500 1 3.500-1.500 3c-3.500-1-5.500-5-6-10c-0.500-6 1.500-14 6-16z" fill="#e0e3f1"/>
<path d="M-13.500 6.500c3 1 7 1 10-2.500c1.500 8-1.500 13.500-6 14.500c-3 0.500-4.500-1-4.500-4z" fill="#dfeff5"/>
<path d="M-5.500 5c1.800-1 2.800 0 2.800 2c0 3-1 6-2.800 8c1-3 1-7 0-10z" fill="#ccd9ee"/>
</g>
<g transform="translate(2.300 1.500) rotate(-24)" filter="url(#b)">
<text class="t" x="0" y="0" font-size="18" font-style="italic" stroke-width="0.500" transform="scale(0.765 1)"><tspan fill="#ced7ec" stroke="#ced7ec">Pharma</tspan><tspan fill="#d7e8f5" stroke="#d7e8f5">Legacy</tspan></text>
<path d="M3 6.800H92" stroke="#e6eaf5" stroke-width="2" stroke-dasharray="2.500 1"/>
</g></g>
<g transform="translate(-64.0 533.4)"><g filter="url(#b2)">
<path d="M-18 -2.500c3.500-1.200 5.500 1 5.300 4.500l-0.300 12c0 3-2 5-3.500 6.500c1.500 1.500 1 3.500-1.500 3c-3.500-1-5.500-5-6-10c-0.500-6 1.500-14 6-16z" fill="#e0e3f1"/>
<path d="M-13.500 6.500c3 1 7 1 10-2.500c1.500 8-1.500 13.500-6 14.500c-3 0.500-4.500-1-4.500-4z" fill="#dfeff5"/>
<path d="M-5.500 5c1.800-1 2.800 0 2.800 2c0 3-1 6-2.800 8c1-3 1-7 0-10z" fill="#ccd9ee"/>
</g>
<g transform="translate(2.300 1.500) rotate(-24)" filter="url(#b)">
<text class="t" x="0" y="0" font-size="18" font-style="italic" stroke-width="0.500" transform="scale(0.765 1)"><tspan fill="#ced7ec" stroke="#ced7ec">Pharma</tspan><tspan fill="#d7e8f5" stroke="#d7e8f5">Legacy</tspan></text>
<path d="M3 6.800H92" stroke="#e6eaf5" stroke-width="2" stroke-dasharray="2.500 1"/>
</g></g>
<g transform="translate(97.2 533.4)"><g filter="url(#b2)">
<path d="M-18 -2.500c3.500-1.200 5.500 1 5.300 4.500l-0.300 12c0 3-2 5-3.500 6.500c1.500 1.500 1 3.500-1.500 3c-3.500-1-5.500-5-6-10c-0.500-6 1.500-14 6-16z" fill="#e0e3f1"/>
<path d="M-13.500 6.500c3 1 7 1 10-2.500c1.500 8-1.500 13.500-6 14.500c-3 0.500-4.500-1-4.500-4z" fill="#dfeff5"/>
<path d="M-5.500 5c1.800-1 2.800 0 2.800 2c0 3-1 6-2.800 8c1-3 1-7 0-10z" fill="#ccd9ee"/>
</g>
<g transform="translate(2.300 1.500) rotate(-24)" filter="url(#b)">
<text class="t" x="0" y="0" font-size="18" font-style="italic" stroke-width="0.500" transform="scale(0.765 1)"><tspan fill="#ced7ec" stroke="#ced7ec">Pharma</tspan><tspan fill="#d7e8f5" stroke="#d7e8f5">Legacy</tspan></text>
<path d="M3 6.800H92" stroke="#e6eaf5" stroke-width="2" stroke-dasharray="2.500 1"/>
</g></g>
<g transform="translate(258.4 533.4)"><g filter="url(#b2)">
<path d="M-18 -2.500c3.500-1.200 5.500 1 5.300 4.500l-0.300 12c0 3-2 5-3.500 6.500c1.500 1.500 1 3.500-1.500 3c-3.500-1-5.500-5-6-10c-0.500-6 1.500-14 6-16z" fill="#e0e3f1"/>
<path d="M-13.500 6.500c3 1 7 1 10-2.500c1.500 8-1.500 13.500-6 14.500c-3 0.500-4.500-1-4.500-4z" fill="#dfeff5"/>
<path d="M-5.500 5c1.800-1 2.800 0 2.800 2c0 3-1 6-2.800 8c1-3 1-7 0-10z" fill="#ccd9ee"/>
</g>
<g transform="translate(2.300 1.500) rotate(-24)" filter="url(#b)">
<text class="t" x="0" y="0" font-size="18" font-style="italic" stroke-width="0.500" transform="scale(0.765 1)"><tspan fill="#ced7ec" stroke="#ced7ec">Pharma</tspan><tspan fill="#d7e8f5" stroke="#d7e8f5">Legacy</tspan></text>
<path d="M3 6.800H92" stroke="#e6eaf5" stroke-width="2" stroke-dasharray="2.500 1"/>
</g></g>
<g transform="translate(419.5 533.4)"><g filter="url(#b2)">
<path d="M-18 -2.500c3.500-1.200 5.500 1 5.300 4.500l-0.300 12c0 3-2 5-3.500 6.500c1.500 1.500 1 3.500-1.500 3c-3.500-1-5.500-5-6-10c-0.500-6 1.500-14 6-16z" fill="#e0e3f1"/>
<path d="M-13.500 6.500c3 1 7 1 10-2.500c1.500 8-1.500 13.500-6 14.500c-3 0.500-4.500-1-4.500-4z" fill="#dfeff5"/>
<path d="M-5.500 5c1.800-1 2.800 0 2.800 2c0 3-1 6-2.800 8c1-3 1-7 0-10z" fill="#ccd9ee"/>
</g>
<g transform="translate(2.300 1.500) rotate(-24)" filter="url(#b)">
<text class="t" x="0" y="0" font-size="18" font-style="italic" stroke-width="0.500" transform="scale(0.765 1)"><tspan fill="#ced7ec" stroke="#ced7ec">Pharma</tspan><tspan fill="#d7e8f5" stroke="#d7e8f5">Legacy</tspan></text>
<path d="M3 6.800H92" stroke="#e6eaf5" stroke-width="2" stroke-dasharray="2.500 1"/>
</g></g>
<g transform="translate(580.7 533.4)"><g filter="url(#b2)">
<path d="M-18 -2.500c3.500-1.200 5.500 1 5.300 4.500l-0.300 12c0 3-2 5-3.500 6.500c1.500 1.500 1 3.500-1.500 3c-3.500-1-5.500-5-6-10c-0.500-6 1.500-14 6-16z" fill="#e0e3f1"/>
<path d="M-13.500 6.500c3 1 7 1 10-2.500c1.500 8-1.500 13.500-6 14.500c-3 0.500-4.500-1-4.500-4z" fill="#dfeff5"/>
<path d="M-5.500 5c1.800-1 2.800 0 2.800 2c0 3-1 6-2.800 8c1-3 1-7 0-10z" fill="#ccd9ee"/>
</g>
<g transform="translate(2.300 1.500) rotate(-24)" filter="url(#b)">
<text class="t" x="0" y="0" font-size="18" font-style="italic" stroke-width="0.500" transform="scale(0.765 1)"><tspan fill="#ced7ec" stroke="#ced7ec">Pharma</tspan><tspan fill="#d7e8f5" stroke="#d7e8f5">Legacy</tspan></text>
<path d="M3 6.800H92" stroke="#e6eaf5" stroke-width="2" stroke-dasharray="2.500 1"/>
</g></g>
<g transform="translate(741.8 533.4)"><g filter="url(#b2)">
<path d="M-18 -2.500c3.500-1.200 5.500 1 5.300 4.500l-0.300 12c0 3-2 5-3.500 6.500c1.500 1.500 1 3.500-1.500 3c-3.500-1-5.500-5-6-10c-0.500-6 1.500-14 6-16z" fill="#e0e3f1"/>
<path d="M-13.500 6.500c3 1 7 1 10-2.500c1.500 8-1.500 13.500-6 14.500c-3 0.500-4.500-1-4.500-4z" fill="#dfeff5"/>
<path d="M-5.500 5c1.800-1 2.800 0 2.800 2c0 3-1 6-2.800 8c1-3 1-7 0-10z" fill="#ccd9ee"/>
</g>
<g transform="translate(2.300 1.500) rotate(-24)" filter="url(#b)">
<text class="t" x="0" y="0" font-size="18" font-style="italic" stroke-width="0.500" transform="scale(0.765 1)"><tspan fill="#ced7ec" stroke="#ced7ec">Pharma</tspan><tspan fill="#d7e8f5" stroke="#d7e8f5">Legacy</tspan></text>
<path d="M3 6.800H92" stroke="#e6eaf5" stroke-width="2" stroke-dasharray="2.500 1"/>
</g></g>
<g transform="translate(903.0 533.4)"><g filter="url(#b2)">
<path d="M-18 -2.500c3.500-1.200 5.500 1 5.300 4.500l-0.300 12c0 3-2 5-3.500 6.500c1.500 1.500 1 3.500-1.500 3c-3.500-1-5.500-5-6-10c-0.500-6 1.500-14 6-16z" fill="#e0e3f1"/>
<path d="M-13.500 6.500c3 1 7 1 10-2.500c1.500 8-1.500 13.500-6 14.500c-3 0.500-4.500-1-4.500-4z" fill="#dfeff5"/>
<path d="M-5.500 5c1.800-1 2.800 0 2.800 2c0 3-1 6-2.800 8c1-3 1-7 0-10z" fill="#ccd9ee"/>
</g>
<g transform="translate(2.300 1.500) rotate(-24)" filter="url(#b)">
<text class="t" x="0" y="0" font-size="18" font-style="italic" stroke-width="0.500" transform="scale(0.765 1)"><tspan fill="#ced7ec" stroke="#ced7ec">Pharma</tspan><tspan fill="#d7e8f5" stroke="#d7e8f5">Legacy</tspan></text>
<path d="M3 6.800H92" stroke="#e6eaf5" stroke-width="2" stroke-dasharray="2.500 1"/>
</g></g></g>
<text class="t" x="414.6" y="54.8" font-size="33.7" font-weight="bold" text-anchor="middle">DAI Score</text>
<path d="M74.7 88.3V431.3" stroke="#000" stroke-width="3.2" fill="none"/>
<path d="M60.3 429.6H586" stroke="#000" stroke-width="3.4" fill="none"/>
<path d="M60.3 429.6H74.7" stroke="#000" stroke-width="3.2"/><path d="M60.3 367.9H74.7" stroke="#000" stroke-width="3.2"/><path d="M60.3 306.2H74.7" stroke="#000" stroke-width="3.2"/><path d="M60.3 244.5H74.7" stroke="#000" stroke-width="3.2"/><path d="M60.3 182.8H74.7" stroke="#000" stroke-width="3.2"/><path d="M60.3 121.1H74.7" stroke="#000" stroke-width="3.2"/><path d="M115.3 429.6V443.4" stroke="#000" stroke-width="3.4"/><path d="M176.4 429.6V443.4" stroke="#000" stroke-width="3.4"/><path d="M237.6 429.6V443.4" stroke="#000" stroke-width="3.4"/><path d="M298.8 429.6V443.4" stroke="#000" stroke-width="3.4"/><path d="M359.9 429.6V443.4" stroke="#000" stroke-width="3.4"/><path d="M421.1 429.6V443.4" stroke="#000" stroke-width="3.4"/><path d="M482.2 429.6V443.4" stroke="#000" stroke-width="3.4"/><path d="M543.4 429.6V443.4" stroke="#000" stroke-width="3.4"/>
<g class="s" stroke="#000" stroke-width="0.35"><text x="56.2" y="438.6" text-anchor="end">0</text><text x="56.2" y="376.9" text-anchor="end">2</text><text x="56.2" y="315.2" text-anchor="end">4</text><text x="56.2" y="253.5" text-anchor="end">6</text><text x="56.2" y="191.8" text-anchor="end">8</text><text x="56.2" y="130.1" text-anchor="end">10</text><text x="115.3" y="471.0" text-anchor="middle">1</text><text x="176.4" y="471.0" text-anchor="middle">2</text><text x="237.6" y="471.0" text-anchor="middle">3</text><text x="298.8" y="471.0" text-anchor="middle">4</text><text x="359.9" y="471.0" text-anchor="middle">5</text><text x="421.1" y="471.0" text-anchor="middle">6</text><text x="482.2" y="471.0" text-anchor="middle">7</text></g>
<text class="t" x="331.8" y="512.1" font-size="22.2">Day</text>
<path d="M176.4 219.5V232.5M169.8 219.5h13.2M169.8 232.5h13.2" stroke="#f28a1e" stroke-width="1.7" fill="none"/>
<path d="M237.6 215.8V226.9M231.0 215.8h13.2M231.0 226.9h13.2" stroke="#f28a1e" stroke-width="1.7" fill="none"/>
<path d="M298.8 215.8V226.9M292.1 215.8h13.2M292.1 226.9h13.2" stroke="#f28a1e" stroke-width="1.7" fill="none"/>
<path d="M359.9 252.1V291.2M353.3 252.1h13.2M353.3 291.2h13.2" stroke="#f28a1e" stroke-width="1.7" fill="none"/>
<path d="M421.1 345.7V383.9M414.4 345.7h13.2M414.4 383.9h13.2" stroke="#f28a1e" stroke-width="1.7" fill="none"/>
<path d="M482.2 402.6V427.6M475.6 402.6h13.2" stroke="#f28a1e" stroke-width="1.7" fill="none"/>
<polyline points="115.3,429.6 176.4,226.0 237.6,221.4 298.8,221.4 359.9,271.6 421.1,364.8 482.2,415.1" fill="none" stroke="#f28a1e" stroke-width="3.6" stroke-linejoin="miter"/>
<path d="M108.6 436.0h13.4L115.3 423.0z" fill="#f28a1e"/>
<path d="M169.8 232.4h13.4L176.4 219.4z" fill="#f28a1e"/>
<path d="M230.9 227.8h13.4L237.6 214.8z" fill="#f28a1e"/>
<path d="M292.1 227.8h13.4L298.8 214.8z" fill="#f28a1e"/>
<path d="M353.2 278.0h13.4L359.9 265.0z" fill="#f28a1e"/>
<path d="M414.4 371.2h13.4L421.1 358.2z" fill="#f28a1e"/>
<path d="M475.5 421.5h13.4L482.2 408.5z" fill="#f28a1e"/>
<path d="M237.6 121.4V149.8M231.0 121.4h13.2M231.0 149.8h13.2" stroke="#e3141e" stroke-width="1.7" fill="none"/>
<path d="M298.8 164.9V184.7M292.1 164.9h13.2M292.1 184.7h13.2" stroke="#e3141e" stroke-width="1.7" fill="none"/>
<path d="M359.9 188.8V200.2M353.3 188.8h13.2M353.3 200.2h13.2" stroke="#e3141e" stroke-width="1.7" fill="none"/>
<path d="M421.1 213.3V236.8M414.4 213.3h13.2M414.4 236.8h13.2" stroke="#e3141e" stroke-width="1.7" fill="none"/>
<path d="M482.2 271.8V294.3M475.6 271.8h13.2M475.6 294.3h13.2" stroke="#e3141e" stroke-width="1.7" fill="none"/>
<path d="M543.4 275.4V298.2M536.8 275.4h13.2M536.8 298.2h13.2" stroke="#e3141e" stroke-width="1.7" fill="none"/>
<polyline points="115.3,429.6 176.4,235.2 237.6,135.6 298.8,174.8 359.9,194.5 421.1,225.1 482.2,283.1 543.4,286.8" fill="none" stroke="#e3141e" stroke-width="3.6" stroke-linejoin="miter"/>
<path d="M115.3 422.6L122.3 429.6L115.3 436.6L108.3 429.6z" fill="#e3141e"/>
<path d="M176.4 228.2L183.4 235.2L176.4 242.2L169.4 235.2z" fill="#e3141e"/>
<path d="M237.6 128.6L244.6 135.6L237.6 142.6L230.6 135.6z" fill="#e3141e"/>
<path d="M298.8 167.8L305.8 174.8L298.8 181.8L291.8 174.8z" fill="#e3141e"/>
<path d="M359.9 187.5L366.9 194.5L359.9 201.5L352.9 194.5z" fill="#e3141e"/>
<path d="M421.1 218.1L428.1 225.1L421.1 232.1L414.1 225.1z" fill="#e3141e"/>
<path d="M482.2 276.1L489.2 283.1L482.2 290.1L475.2 283.1z" fill="#e3141e"/>
<path d="M543.4 279.8L550.4 286.8L543.4 293.8L536.4 286.8z" fill="#e3141e"/>
<text class="a" x="506.6" y="439" fill="#e58aa8">*</text>
<path d="M237.6 293.2V401.8M231.0 293.2h13.2M231.0 401.8h13.2" stroke="#1810ce" stroke-width="1.7" fill="none"/>
<path d="M298.8 306.2V429.6M292.1 306.2h13.2" stroke="#1810ce" stroke-width="1.7" fill="none"/>
<polyline points="115.3,429.6 176.4,242.6 237.6,347.5 298.8,367.9 359.9,429.6 421.1,429.6 482.2,429.6 543.4,429.6" fill="none" stroke="#1810ce" stroke-width="3.6" stroke-linejoin="miter"/>
<path d="M108.2 423.6h14.2L115.3 436.0z" fill="#1810ce"/>
<path d="M169.3 236.6h14.2L176.4 249.0z" fill="#1810ce"/>
<path d="M230.5 341.5h14.2L237.6 353.9z" fill="#1810ce"/>
<path d="M291.6 361.9h14.2L298.8 374.3z" fill="#1810ce"/>
<path d="M352.8 423.6h14.2L359.9 436.0z" fill="#1810ce"/>
<path d="M413.9 423.6h14.2L421.1 436.0z" fill="#1810ce"/>
<path d="M475.1 423.6h14.2L482.2 436.0z" fill="#1810ce"/>
<path d="M536.2 423.6h14.2L543.4 436.0z" fill="#1810ce"/>
<rect x="496.6" y="426" width="4.8" height="7.4" fill="#fff"/>
<rect x="550" y="426" width="4.2" height="7.4" fill="#fff"/>
<text class="a" x="505.2" y="406.2" fill="#f28a1e" opacity="0.8">**</text>
<text class="a" x="505.2" y="435.1" fill="#1810ce">**</text>
<text class="a" x="505.6" y="468.3" fill="#1810ce">*</text>
<g>
<path d="M616.3 85.3H652.5" stroke="#1810ce" stroke-width="3.6"/><path d="M627.4 79.3h14.2L634.5 91.7z" fill="#1810ce"/>
<path d="M616.3 130.6H652.5" stroke="#e3141e" stroke-width="3.6"/><path d="M634.4 123.6L641.4 130.6L634.4 137.6L627.4 130.6z" fill="#e3141e"/>
<path d="M616.3 171.2H652.5" stroke="#f28a1e" stroke-width="3.6"/><path d="M628.0 177.6h13.4L634.7 164.6z" fill="#f28a1e"/>
<g class="t" font-size="22.3"><text x="678" y="97.5">Sham</text><text x="678.2" y="138.2">Model</text><text x="678.2" y="178.7">Model-MRT-6160</text></g>
</g>
</svg>
</body></html>
